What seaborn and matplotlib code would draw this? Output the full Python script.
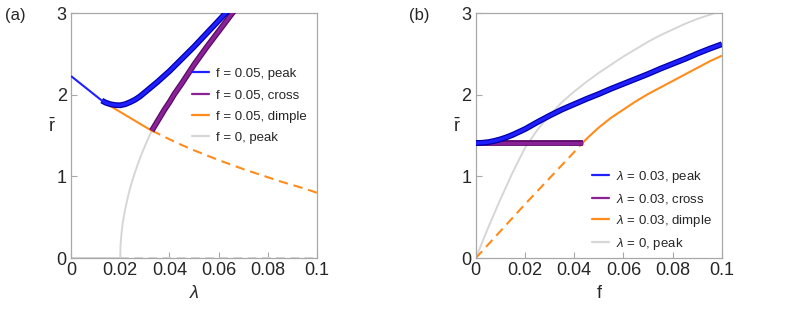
import matplotlib
matplotlib.use("Agg")
import matplotlib.pyplot as plt
import matplotlib.patheffects as pe
from matplotlib.lines import Line2D
import seaborn as sns

# ---- panel (a): r-bar vs lambda, f = 0.05 ----
a_peak_thin_x = [0.0, 0.005, 0.01, 0.0125]
a_peak_thin_y = [2.23, 2.11, 1.99, 1.93]
a_peak_x = [0.0125, 0.014, 0.016, 0.018, 0.02, 0.022, 0.024, 0.026, 0.028, 0.03, 0.032,
            0.035, 0.04, 0.045, 0.05, 0.055, 0.06, 0.065]
a_peak_y = [1.93, 1.905, 1.885, 1.874, 1.872, 1.885, 1.91, 1.94, 1.98, 2.03, 2.08,
            2.155, 2.29, 2.44, 2.59, 2.75, 2.91, 3.07]
a_cross_x = [0.0328, 0.034, 0.036, 0.038, 0.04, 0.042, 0.045, 0.05, 0.055, 0.06, 0.0655, 0.067]
a_cross_y = [1.56, 1.62, 1.72, 1.82, 1.91, 2.01, 2.14, 2.37, 2.58, 2.78, 3.0, 3.06]
a_dimple_solid_x = [0.0125, 0.015, 0.02, 0.025, 0.03, 0.0328]
a_dimple_solid_y = [1.93, 1.88, 1.79, 1.70, 1.61, 1.56]
a_dimple_dash_x = [0.0328, 0.035, 0.04, 0.045, 0.05, 0.055, 0.06, 0.065, 0.07, 0.075,
                   0.08, 0.085, 0.09, 0.095, 0.1]
a_dimple_dash_y = [1.56, 1.53, 1.455, 1.385, 1.32, 1.26, 1.20, 1.145, 1.09, 1.04,
                   0.99, 0.94, 0.895, 0.85, 0.80]
a_f0_x = [0.02, 0.0201, 0.0205, 0.021, 0.022, 0.0235, 0.025, 0.027, 0.029, 0.031, 0.0328]
a_f0_y = [0.0, 0.15, 0.30, 0.43, 0.60, 0.80, 0.96, 1.14, 1.30, 1.44, 1.56]
a_f0_base_solid_x = [0.0, 0.02]
a_f0_base_dash_x = [0.02, 0.1]

# ---- panel (b): r-bar vs f, lambda = 0.03 ----
b_peak_x = [0.0, 0.0025, 0.005, 0.0075, 0.01, 0.0125, 0.015, 0.0175, 0.02, 0.025, 0.03,
            0.035, 0.04, 0.045, 0.05, 0.055, 0.06, 0.065, 0.07, 0.075, 0.08, 0.085,
            0.09, 0.095, 0.1]
b_peak_y = [1.41, 1.412, 1.42, 1.435, 1.455, 1.48, 1.51, 1.545, 1.58, 1.665, 1.745,
            1.82, 1.885, 1.95, 2.01, 2.075, 2.135, 2.195, 2.255, 2.32, 2.38, 2.44,
            2.505, 2.565, 2.62]
b_cross_x = [0.0, 0.0435]
b_cross_y = [1.41, 1.41]
b_dimple_dash_x = [0.0, 0.01, 0.02, 0.03, 0.035, 0.04, 0.043]
b_dimple_dash_y = [0.0, 0.33, 0.66, 0.98, 1.14, 1.30, 1.40]
b_dimple_solid_x = [0.043, 0.046, 0.05, 0.055, 0.06, 0.065, 0.07, 0.075, 0.08, 0.085,
                    0.09, 0.095, 0.1]
b_dimple_solid_y = [1.40, 1.49, 1.60, 1.72, 1.82, 1.92, 2.01, 2.09, 2.17, 2.25,
                    2.33, 2.41, 2.48]
b_l0_x = [0.0, 0.005, 0.01, 0.015, 0.02, 0.025, 0.03, 0.035, 0.04, 0.045, 0.05, 0.055,
          0.06, 0.065, 0.07, 0.075, 0.08, 0.085, 0.09, 0.095, 0.1]
b_l0_y = [0.0, 0.37, 0.72, 1.05, 1.35, 1.57, 1.75, 1.91, 2.04, 2.16, 2.27, 2.37,
          2.47, 2.56, 2.65, 2.73, 2.80, 2.87, 2.93, 2.98, 3.03]

x_ticks = [0, 0.02, 0.04, 0.06, 0.08, 0.1]
x_tick_labels = ["0", "0.02", "0.04", "0.06", "0.08", "0.1"]
y_ticks = [0, 1, 2, 3]
y_tick_labels = ["0", "1", "2", "3"]

a_labels = ["f = 0.05, peak", "f = 0.05, cross", "f = 0.05, dimple", "f = 0, peak"]
b_labels = [r"$\lambda$ = 0.03, peak", r"$\lambda$ = 0.03, cross",
            r"$\lambda$ = 0.03, dimple", r"$\lambda$ = 0, peak"]

BLUE = "#1f1fff"
BLUE_EDGE = "#0000a8"
PURPLE = "#8a2196"
PURPLE_EDGE = "#5a0a66"
ORANGE = "#ff8c1a"
GRAY = "#d6d6d6"
FRAME = "#a8a8a8"

sns.set_theme(style="white")
plt.rcParams['font.family'] = ['Liberation Sans', 'DejaVu Sans']
plt.rcParams['mathtext.fontset'] = 'custom'
plt.rcParams['mathtext.it'] = 'Liberation Sans:italic'
plt.rcParams['mathtext.rm'] = 'Liberation Sans'

fig = plt.figure(figsize=(7.89, 3.14), dpi=100)
ax1 = fig.add_axes([0.090, 0.178, 0.312, 0.780])
ax2 = fig.add_axes([0.603, 0.178, 0.312, 0.780])

thick_blue = [pe.Stroke(linewidth=4.2, foreground=BLUE_EDGE), pe.Normal()]
thick_purple = [pe.Stroke(linewidth=4.2, foreground=PURPLE_EDGE), pe.Normal()]


def line(ax, x, y, color, lw, ls="-", effects=None, z=2, clip=True):
    sns.lineplot(x=x, y=y, ax=ax, color=color, linewidth=lw, linestyle=ls,
                 sort=False, estimator=None, zorder=z)
    ln = ax.lines[-1]
    ln.set_clip_on(clip)
    ln.set_solid_capstyle("butt")
    ln.set_solid_joinstyle("round")
    if effects:
        ln.set_path_effects(effects)
    return ln


DASH = (0, (4.5, 2.8))

# panel (a)
line(ax1, a_f0_base_solid_x, [0, 0], GRAY, 1.4, z=1, clip=False)
line(ax1, a_f0_base_dash_x, [0, 0], GRAY, 1.4, ls=DASH, z=1, clip=False)
line(ax1, a_f0_x, a_f0_y, GRAY, 1.4, z=1)
line(ax1, a_dimple_solid_x, a_dimple_solid_y, ORANGE, 1.5, z=2)
line(ax1, a_dimple_dash_x, a_dimple_dash_y, ORANGE, 1.5, ls=DASH, z=2)
line(ax1, a_cross_x, a_cross_y, PURPLE, 2.4, effects=thick_purple, z=3)
line(ax1, a_peak_thin_x, a_peak_thin_y, BLUE, 1.5, z=3)
line(ax1, a_peak_x, a_peak_y, BLUE, 2.4, effects=thick_blue, z=4)

# panel (b)
line(ax2, b_l0_x, b_l0_y, GRAY, 1.4, z=1)
line(ax2, b_dimple_dash_x, b_dimple_dash_y, ORANGE, 1.5, ls=DASH, z=2)
line(ax2, b_dimple_solid_x, b_dimple_solid_y, ORANGE, 1.5, z=2)
line(ax2, b_cross_x, b_cross_y, PURPLE, 2.4, effects=thick_purple, z=3, clip=False)
line(ax2, b_peak_x, b_peak_y, BLUE, 2.4, effects=thick_blue, z=4)

for ax in (ax1, ax2):
    ax.set_xlim(0, 0.1)
    ax.set_ylim(0, 3)
    ax.set_xticks(x_ticks)
    ax.set_xticklabels(x_tick_labels)
    ax.set_yticks(y_ticks)
    ax.set_yticklabels(y_tick_labels)
    ax.tick_params(direction="in", length=4, width=0.8, color=FRAME,
                   labelsize=13, pad=3, bottom=True, left=True)
    for s in ax.spines.values():
        s.set_color(FRAME)
        s.set_linewidth(0.9)
    ax.set_ylabel(r"$\bar{\mathrm{r}}$", fontsize=13, rotation=0)
    ax.yaxis.set_label_coords(-0.075, 0.50)

ax1.set_xlabel(r"$\lambda$", fontsize=13, labelpad=4)
ax2.set_xlabel("f", fontsize=13, labelpad=4)

handle_colors = [BLUE, PURPLE, ORANGE, GRAY]
handles = [Line2D([], [], color=c, lw=1.6) for c in handle_colors]
ax1.legend(handles, a_labels, loc="upper left", bbox_to_anchor=(0.47, 0.80),
           frameon=False, fontsize=9.5, handlelength=1.3, handletextpad=0.5,
           labelspacing=0.70, borderaxespad=0)
ax2.legend(handles, b_labels, loc="upper left", bbox_to_anchor=(0.45, 0.385),
           frameon=False, fontsize=9.5, handlelength=1.3, handletextpad=0.5,
           labelspacing=0.52, borderaxespad=0)

fig.text(0.006, 0.935, "(a)", fontsize=12)
fig.text(0.518, 0.935, "(b)", fontsize=12)

plt.savefig("out.png", dpi=100)
